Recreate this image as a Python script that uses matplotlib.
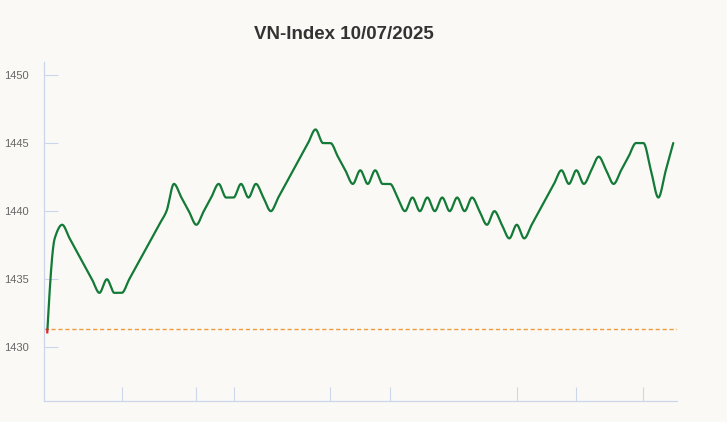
#!/usr/bin/env python3
"""VN-Index intraday line, 10/07/2025."""

import matplotlib
matplotlib.use("Agg")
import matplotlib.pyplot as plt
import numpy as np

# index value at each sample (evenly spaced through the session)
values = [
    1431.1, 1438, 1439, 1438, 1437, 1436, 1435, 1434, 1435, 1434,
    1434, 1435, 1436, 1437, 1438, 1439, 1440, 1442, 1441, 1440,
    1439, 1440, 1441, 1442, 1441, 1441, 1442, 1441, 1442, 1441,
    1440, 1441, 1442, 1443, 1444, 1445, 1446, 1445, 1445, 1444,
    1443, 1442, 1443, 1442, 1443, 1442, 1442, 1441, 1440, 1441,
    1440, 1441, 1440, 1441, 1440, 1441, 1440, 1441, 1440, 1439,
    1440, 1439, 1438, 1439, 1438, 1439, 1440, 1441, 1442, 1443,
    1442, 1443, 1442, 1443, 1444, 1443, 1442, 1443, 1444, 1445,
    1445, 1443, 1441, 1443, 1445,
]
reference = 1431.32
y_ticks = [1430, 1435, 1440, 1445, 1450]
x_ticks = [10, 20, 25, 38, 46, 63, 71, 80]

GREEN = "#137a37"
RED = "#e0262b"
ORANGE = "#ee9a3a"
AXIS = "#ccd6eb"
BG = "#faf9f6"


def pchip(x, y, xs):
    h = np.diff(x)
    delta = np.diff(y) / h
    d = np.zeros_like(y)
    for i in range(1, len(y) - 1):
        if delta[i - 1] * delta[i] > 0:
            w1 = 2 * h[i] + h[i - 1]
            w2 = h[i] + 2 * h[i - 1]
            d[i] = (w1 + w2) / (w1 / delta[i - 1] + w2 / delta[i])
    for end, (a, b, ha, hb) in ((0, (delta[0], delta[1], h[0], h[1])),
                                (-1, (delta[-1], delta[-2], h[-1], h[-2]))):
        v = ((2 * ha + hb) * a - ha * b) / (ha + hb)
        if np.sign(v) != np.sign(a):
            v = 0.0
        elif np.sign(a) != np.sign(b) and abs(v) > abs(3 * a):
            v = 3 * a
        d[end] = v
    idx = np.clip(np.searchsorted(x, xs) - 1, 0, len(x) - 2)
    t = (xs - x[idx]) / h[idx]
    h00 = 2 * t**3 - 3 * t**2 + 1
    h10 = t**3 - 2 * t**2 + t
    h01 = -2 * t**3 + 3 * t**2
    h11 = t**3 - t**2
    return (h00 * y[idx] + h10 * h[idx] * d[idx]
            + h01 * y[idx + 1] + h11 * h[idx] * d[idx + 1])


def main() -> None:
    plt.rcParams["font.family"] = ["Liberation Sans", "DejaVu Sans"]
    x = np.arange(len(values), dtype=float)
    y = np.array(values, dtype=float)
    xs = np.linspace(x[0], x[-1], 4000)
    ys = pchip(x, y, xs)

    fig = plt.figure(figsize=(7.27, 4.22), dpi=100, facecolor=BG)
    ax = fig.add_axes([0.0605, 0.0498, 0.8707, 0.8032])
    ax.set_facecolor(BG)

    ax.axhline(reference, color=ORANGE, lw=1.0, dashes=(3, 2), zorder=1)
    ax.plot(xs, np.ma.masked_where(ys < reference - 0.02, ys), color=GREEN,
            lw=1.6, solid_capstyle="round", zorder=3)
    ax.plot(xs, np.ma.masked_where(ys > reference, ys), color=RED,
            lw=1.6, zorder=4)

    ax.set_xlim(-0.44, 84.5)
    ax.set_ylim(1426.06, 1450.95)
    ax.set_yticks(y_ticks)
    ax.set_yticklabels([str(v) for v in y_ticks])
    ax.set_xticks(x_ticks)
    ax.set_xticklabels([])
    ax.tick_params(axis="both", direction="in", length=10, width=0.8,
                   color=AXIS, labelcolor="#666666", labelsize=8)
    ax.tick_params(axis="y", pad=11)
    for side in ("top", "right"):
        ax.spines[side].set_visible(False)
    for side in ("left", "bottom"):
        ax.spines[side].set_color(AXIS)
        ax.spines[side].set_linewidth(0.9)

    fig.text(0.473, 0.919, "VN-Index 10/07/2025", ha="center", va="center",
             fontsize=13.5, fontweight="bold", color="#333333")

    fig.savefig("out.png", dpi=100, facecolor=BG)
    plt.close(fig)


if __name__ == "__main__":
    main()
